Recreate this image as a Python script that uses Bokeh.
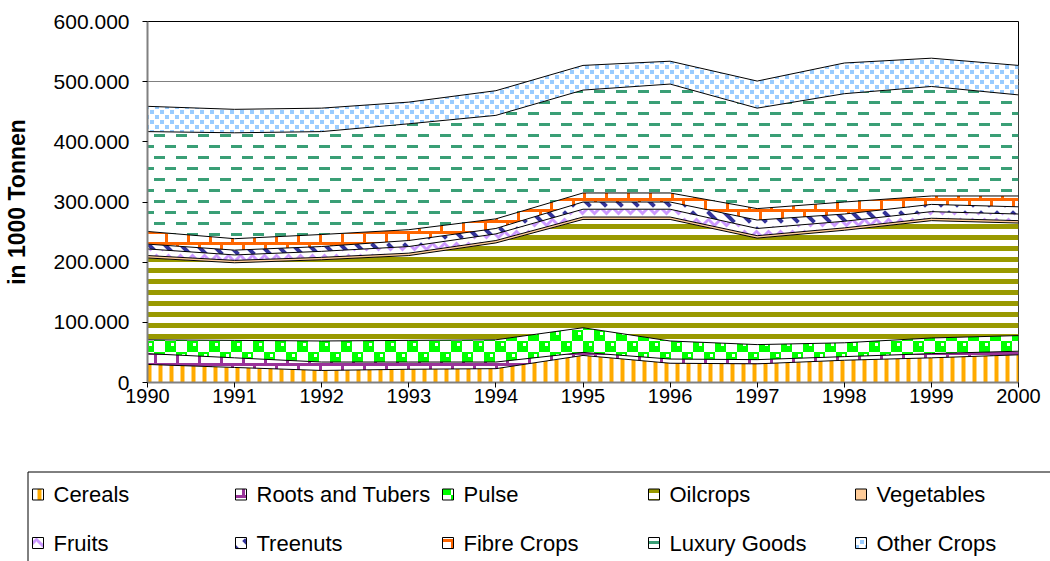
from bokeh.plotting import figure
from bokeh.models import ColumnDataSource, FixedTicker, CustomJSTickFormatter, Range1d, CanvasTexture
from bokeh.core.properties import value
from bokeh.transform import stack
from bokeh.embed import file_html
from bokeh.resources import INLINE

# values in 1000 Tonnen
years = [1990, 1991, 1992, 1993, 1994, 1995, 1996, 1997, 1998, 1999, 2000]
cereals = [30000, 25000, 20000, 22000, 23000, 45000, 32000, 31000, 37000, 41000, 46000]
roots = [18000, 16000, 14000, 12000, 11000, 5000, 7000, 7000, 6000, 7000, 6000]
pulse = [23000, 29000, 35000, 36000, 37000, 41000, 30000, 25000, 23000, 26000, 26000]
oilcrops = [136000, 129000, 135000, 141000, 161000, 180000, 202000, 177000, 187000, 195000, 187000]
vegetables = [4000, 4000, 4000, 4000, 4000, 4000, 4000, 4000, 4000, 4000, 4000]
fruits = [11000, 9000, 10000, 11000, 11000, 13000, 13000, 12000, 11000, 11000, 11000]
treenuts = [8000, 8000, 8000, 10000, 9000, 12000, 12000, 14000, 12000, 12000, 12000]
fibre = [21000, 19000, 20000, 18000, 16000, 15000, 15000, 19000, 20000, 14000, 18000]
luxury = [166000, 176000, 171000, 176000, 172000, 171000, 181000, 167000, 180000, 182000, 168000]
other = [42000, 39000, 39000, 36000, 41000, 41000, 38000, 45000, 51000, 47000, 49000]

names = ["Cereals", "Roots and Tubers", "Pulse", "Oilcrops", "Vegetables",
         "Fruits", "Treenuts", "Fibre Crops", "Luxury Goods", "Other Crops"]
series = [cereals, roots, pulse, oilcrops, vegetables, fruits, treenuts, fibre, luxury, other]
y_ticks = [0, 100000, 200000, 300000, 400000, 500000, 600000]


def tex(size, body):
    return CanvasTexture(code=(
        "const c = ctx.canvas; c.width = %d; c.height = %d;\n"
        "ctx.setTransform(1, 0, 0, 1, 0, 0);\n" % (size, size)) + body)


# custom Excel-like pattern tiles
textures = {
    "brick_purple": tex(22, """
ctx.fillStyle = '#993399';
ctx.fillRect(0, 0, 22, 3); ctx.fillRect(0, 11, 22, 3);
ctx.fillRect(0, 3, 3, 8); ctx.fillRect(11, 14, 3, 8);
"""),
    "brick_orange": tex(22, """
ctx.fillStyle = '#FF6600';
ctx.fillRect(0, 0, 22, 3); ctx.fillRect(0, 11, 22, 3);
ctx.fillRect(0, 3, 3, 8); ctx.fillRect(11, 14, 3, 8);
"""),
    "checker_green": tex(22, """
ctx.fillStyle = '#00FF00';
ctx.fillRect(0, 0, 11, 11); ctx.fillRect(11, 11, 11, 11);
ctx.clearRect(6, 2, 3, 3); ctx.clearRect(17, 13, 3, 3);
"""),
    "dash_green": tex(22, """
ctx.fillStyle = '#3A9F76';
ctx.fillRect(0, 2, 11, 3); ctx.fillRect(11, 13, 11, 3);
"""),
    "checker_blue": tex(10, """
ctx.fillStyle = '#99CCFF';
ctx.fillRect(0, 0, 4, 4); ctx.fillRect(5, 5, 4, 4);
"""),
}

fills = ["white", "white", "white", "white", "#FFCC99", "white", "white", "white", "white", "white"]
pats = ["|", value("brick_purple"), value("checker_green"), "-", " ", "v", "`",
        value("brick_orange"), value("dash_green"), value("checker_blue")]
hcols = ["#FFAA00", "#993399", "#00FF00", "#999900", "#FFCC99", "#CC99FF", "#333399", "#FF6600", "#3A9F76", "#99CCFF"]
hscales = [11, 22, 22, 11, 12, 12, 16, 22, 22, 10]
hweights = [4, 3, 5, 5, 1, 3, 4, 3, 3, 4]

data = {"year": years}
for n, s in zip(names, series):
    data[n] = s
src = ColumnDataSource(data)

p = figure(width=1050, height=440, x_range=(1990, 2000), y_range=(0, 600000),
           output_backend="svg", toolbar_location=None,
           min_border_left=146, min_border_right=32, min_border_top=21, min_border_bottom=58)

p.varea_stack(stackers=names, x="year", source=src, fill_color=fills,
              hatch_pattern=pats, hatch_color=hcols, hatch_scale=hscales, hatch_weight=hweights,
              hatch_extra=textures)

for i in range(len(names)):
    p.line(x="year", y=stack(*names[:i + 1]), source=src, line_color="black", line_width=1)

p.xgrid.visible = False
p.ygrid.ticker = FixedTicker(ticks=y_ticks)
p.ygrid.grid_line_color = "#808080"
p.outline_line_color = "black"

p.xaxis.ticker = FixedTicker(ticks=years)
p.yaxis.ticker = FixedTicker(ticks=y_ticks)
p.yaxis.formatter = CustomJSTickFormatter(code="""
const s = Math.round(tick).toString();
return s.replace(/\\B(?=(\\d{3})+(?!\\d))/g, '.');
""")
for ax in (p.xaxis[0], p.yaxis[0]):
    ax.axis_line_color = "#808080"
    ax.axis_line_width = 2
    ax.major_tick_line_color = "black"
    ax.major_tick_in = 0
    ax.major_tick_out = 5
    ax.minor_tick_line_color = None
    ax.major_label_text_font = "Liberation Sans"
    ax.major_label_text_font_size = "20px"
    ax.major_label_text_color = "black"
p.yaxis.major_label_text_font_size = "21px"
p.xaxis.major_label_standoff = 1
p.yaxis.major_label_standoff = 13
p.yaxis.axis_label = "in 1000 Tonnen"
p.yaxis.axis_label_text_font = "Liberation Sans"
p.yaxis.axis_label_text_font_size = "23px"
p.yaxis.axis_label_text_font_style = "bold"
p.yaxis.axis_label_text_color = "black"
p.yaxis.axis_label_standoff = 21

# legend panel: a separate root drawn in pixel coordinates of its own figure
LW, LH = 1050, 121
leg = figure(width=LW, height=LH, x_range=Range1d(0, LW), y_range=Range1d(LH, 0),
             output_backend="svg", toolbar_location=None, min_border=0,
             x_axis_type=None, y_axis_type=None)
leg.grid.visible = False
leg.outline_line_color = None
leg.quad(left=[27.5], right=[LW + 60], top=[31.5], bottom=[LH + 60], fill_color=None,
         line_color="black", line_width=1)

col_x = [32, 235, 442, 648, 855]
row_y = [54, 102.5]
for i, n in enumerate(names):
    x0 = col_x[i % 5]
    yc = row_y[i // 5]
    leg.quad(left=[x0], right=[x0 + 11], top=[yc - 5.5], bottom=[yc + 5.5],
             fill_color=fills[i], hatch_pattern=pats[i], hatch_color=hcols[i],
             hatch_scale=hscales[i], hatch_weight=hweights[i], hatch_extra=textures,
             line_color="black", line_width=1)
    leg.text(x=[x0 + 21], y=[yc], text=[n], text_font=value("Liberation Sans"),
             text_font_size="22px", text_baseline="middle", text_align="left", text_color="black")

open("out.html", "w").write(file_html([p, leg], INLINE))
